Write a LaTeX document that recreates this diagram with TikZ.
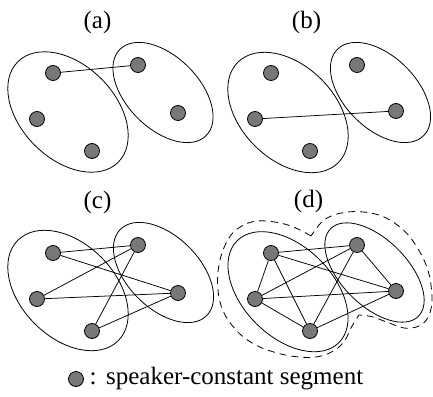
\documentclass[tikz,border=0pt]{standalone}
\usepackage{fontspec}
\setmainfont{Liberation Serif}
\begin{document}
\begin{tikzpicture}[x=1pt,y=-1pt,
  dot/.style={circle,draw=black,fill=black!53,line width=0.8pt,minimum size=15pt,inner sep=0pt},
  edge/.style={line width=0.75pt},
  grp/.style={line width=0.8pt},
  outline/.style={line width=0.8pt,dash pattern=on 7pt off 5pt},
  title/.style={font=\fontsize{25}{29}\selectfont,inner sep=0pt},
  legendtext/.style={font=\fontsize{25}{29}\selectfont,inner sep=0pt}]
\useasboundingbox (0,0) rectangle (433,396);

% titles
\node[title] (ta) at (97.5,22) {(a)};
\node[title] (tb) at (306.5,22) {(b)};
\node[title] (tc) at (97.5,202) {(c)};
\node[title] (td) at (308.5,201.5) {(d)};

% group ellipses
\draw[grp,rotate around={-45:(68,112)}] (68,112) ellipse [x radius=71,y radius=47];
\draw[grp,rotate around={-45:(163,92.5)}] (163,92.5) ellipse [x radius=61,y radius=36];
\draw[grp,rotate around={-45:(288,112.5)}] (288,112.5) ellipse [x radius=71,y radius=47];
\draw[grp,rotate around={-45:(380.5,92.5)}] (380.5,92.5) ellipse [x radius=61,y radius=36];
\draw[grp,rotate around={-45:(68,290.5)}] (68,290.5) ellipse [x radius=71,y radius=47];
\draw[grp,rotate around={-45:(163.5,272.5)}] (163.5,272.5) ellipse [x radius=61,y radius=36];
\draw[grp,rotate around={-45:(288,291.7)}] (288,291.7) ellipse [x radius=72,y radius=45];
\draw[grp,rotate around={-45:(374.5,272.5)}] (374.5,272.5) ellipse [x radius=62,y radius=33];

% dashed outline (d)
\draw[outline] plot[smooth,tension=0.65] coordinates {(311,236) (292.7,226.7) (272.7,221.7) (252.7,221.7) (236,230) (226,243.3) (219.3,263.3) (217.7,286.7) (222.7,310) (236,330) (252.7,343.3) (272.7,351.7) (296,356.7) (318,356.7) (335,350) (345,340) (351.5,327) (359,315)}
  -- plot[smooth,tension=0.65] coordinates {(359,315) (372,316.7) (388,322.5) (406.7,328.3) (423.3,323.3) (431.2,308) (431.2,286.7) (426.7,266.7) (416.7,246.7) (403.3,230) (383.3,216.7) (360,211.7) (340,213.3) (326.7,218.3) (319,225) (311,236)} -- cycle;

% (a)
\node[dot] (a1) at (53,73) {};
\node[dot] (a2) at (138,65) {};
\node[dot] (a3) at (37,119) {};
\node[dot] (a4) at (178,113) {};
\node[dot] (a5) at (92,151) {};
% (b)
\node[dot] (b1) at (271,73) {};
\node[dot] (b2) at (357,65) {};
\node[dot] (b3) at (255,119) {};
\node[dot] (b4) at (396,111) {};
\node[dot] (b5) at (310,151) {};
% (c)
\node[dot] (c1) at (53,253) {};
\node[dot] (c2) at (138,245) {};
\node[dot] (c3) at (37,299) {};
\node[dot] (c4) at (178,293) {};
\node[dot] (c5) at (92,331) {};
% (d)
\node[dot] (d1) at (271,253) {};
\node[dot] (d2) at (357,245) {};
\node[dot] (d3) at (255,299) {};
\node[dot] (d4) at (396,291) {};
\node[dot] (d5) at (310,331) {};

% edges
\draw[edge] (a1) -- (a2);
\draw[edge] (b3) -- (b4);
\foreach \l in {1,3,5}{\foreach \r in {2,4}{\draw[edge] (c\l) -- (c\r);}}
\foreach \i/\j in {1/2,1/3,1/4,1/5,2/3,2/4,2/5,3/4,3/5,4/5}{\draw[edge] (d\i) -- (d\j);}

% legend
\node[dot] (leg) at (76,379) {};
\node[legendtext,anchor=base west] (legtext) at (89.5,384) {:\hspace{9.5pt}speaker-constant segment};
\end{tikzpicture}
\end{document}
